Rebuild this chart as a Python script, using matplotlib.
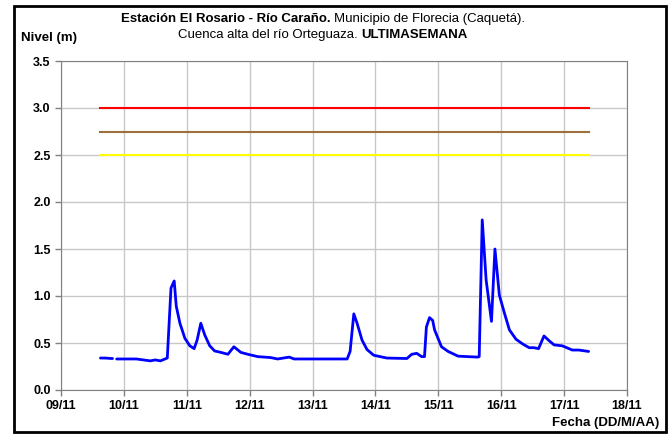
import numpy as np
import matplotlib
matplotlib.use("Agg")
import matplotlib.pyplot as plt
from matplotlib.patches import Rectangle

plt.rcParams['font.family'] = ['Liberation Sans', 'DejaVu Sans']

# days after 09/11 00:00 and level (m); None marks the gap in the record
dias = [0.627, 0.70, 0.80, 0.82, None, 0.885, 1.00, 1.20, 1.42, 1.50, 1.58, 1.654,
        1.69, 1.749, 1.80, 1.833, 1.891, 1.97, 2.049, 2.117, 2.164, 2.223, 2.286,
        2.365, 2.444, 2.543, 2.654, 2.749, 2.86, 2.97, 3.128, 3.333, 3.444, 3.629,
        3.708, 4.123, 4.55, 4.597, 4.656, 4.708, 4.787, 4.866, 4.972, 5.18, 5.50,
        5.577, 5.656, 5.735, 5.78, 5.81, 5.86, 5.91, 5.94, 6.05, 6.156, 6.314,
        6.47, 6.63, 6.65, 6.698, 6.76, 6.845, 6.90, 6.97, 7.05, 7.13, 7.235,
        7.34, 7.445, 7.52, 7.594, 7.68, 7.76, 7.84, 7.97, 8.13, 8.235, 8.39]
nivel = [0.34, 0.34, 0.335, 0.335, None, 0.33, 0.33, 0.33, 0.31, 0.32, 0.31, 0.33,
         0.34, 1.085, 1.16, 0.89, 0.71, 0.55, 0.47, 0.44, 0.53, 0.71, 0.585,
         0.47, 0.415, 0.40, 0.38, 0.46, 0.40, 0.38, 0.355, 0.345, 0.33, 0.35,
         0.33, 0.33, 0.33, 0.41, 0.81, 0.71, 0.53, 0.43, 0.37, 0.34, 0.335,
         0.38, 0.39, 0.355, 0.355, 0.67, 0.77, 0.74, 0.64, 0.46, 0.41, 0.36,
         0.355, 0.35, 0.355, 1.81, 1.17, 0.73, 1.50, 1.01, 0.82, 0.64, 0.54,
         0.49, 0.45, 0.45, 0.44, 0.575, 0.525, 0.48, 0.47, 0.425, 0.425, 0.41]

umbral_rojo = 3.0
umbral_naranja = 2.75
umbral_amarillo = 2.5
etiquetas_x = ['09/11', '10/11', '11/11', '12/11', '13/11', '14/11', '15/11',
               '16/11', '17/11', '18/11']

x = np.array([np.nan if v is None else v for v in dias])
y = np.array([np.nan if v is None else v for v in nivel])

fig = plt.figure(figsize=(6.69, 4.38), dpi=100)
ax = fig.add_axes([61 / 669, 48 / 438, 566 / 669, 329 / 438])

x0, x1 = np.nanmin(x), np.nanmax(x)
ax.plot([x0, x1], [umbral_rojo] * 2, color='#ff0000', lw=1.5, zorder=3)
ax.plot([x0, x1], [umbral_naranja] * 2, color='#a0703c', lw=1.5, zorder=3)
ax.plot([x0, x1], [umbral_amarillo] * 2, color='#ffff00', lw=1.5, zorder=3)
ax.plot(x, y, color='#0000ff', lw=2.0, zorder=4, solid_capstyle='round')

ax.set_xlim(0, 9)
ax.set_ylim(0, 3.5)
ax.set_xticks(range(10))
ax.set_xticklabels(etiquetas_x)
ax.set_yticks(np.arange(0, 3.51, 0.5))
ax.set_yticklabels(['%.1f' % v for v in np.arange(0, 3.51, 0.5)])
ax.grid(True, color='#c8c8c8', lw=1.0)
ax.set_axisbelow(True)
for s in ax.spines.values():
    s.set_color('#808080')
ax.tick_params(colors='#808080', length=4, width=1.0, labelcolor='black')
for t in ax.get_xticklabels() + ax.get_yticklabels():
    t.set_fontweight('bold')
    t.set_fontsize(9)

# figure border
fig.patches.append(Rectangle((14 / 669, 6 / 438), 652 / 669, 426 / 438,
                             transform=fig.transFigure, fill=False,
                             ec='black', lw=2.0))


def mixed_line(y_px, parts):
    # parts: list of (text, weight); drawn side by side and centred as a whole
    r = fig.canvas.get_renderer()
    texts = []
    for txt, w in parts:
        texts.append(fig.text(0, 1 - y_px / 438, txt, fontsize=9.5,
                              fontweight=w, va='center', ha='left'))
    widths = [t.get_window_extent(r).width for t in texts]
    total = sum(widths)
    start = 323 - total / 2
    for t, w in zip(texts, widths):
        t.set_x(start / 669)
        start += w


mixed_line(19, [('Estación El Rosario - Río Caraño. ', 'bold'),
                ('Municipio de Florecia (Caquetá).', 'normal')])
mixed_line(35, [('Cuenca alta del río Orteguaza. ', 'normal'),
                ('ULTIMASEMANA', 'bold')])

fig.text(21 / 669, 1 - 38 / 438, 'Nivel (m)', fontsize=9.5, fontweight='bold',
         va='center', ha='left')
fig.text(659 / 669, 1 - 423 / 438, 'Fecha (DD/M/AA)', fontsize=9.5,
         fontweight='bold', va='center', ha='right')

fig.savefig('out.png', dpi=100)
